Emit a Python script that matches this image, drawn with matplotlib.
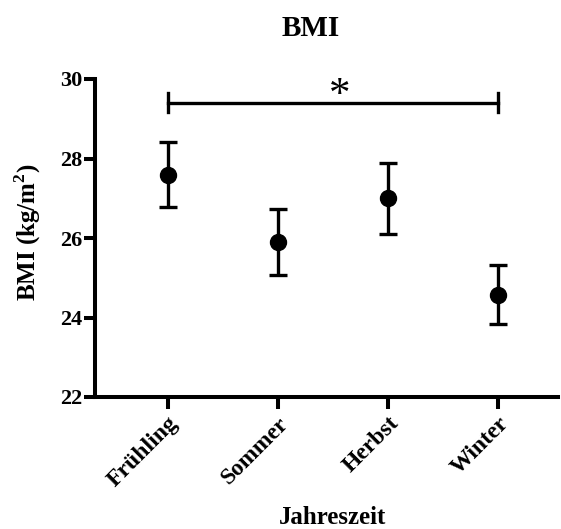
import matplotlib
matplotlib.use("Agg")
import matplotlib.pyplot as plt
import numpy as np

# Mean BMI per season with lower / upper error limits
seasons = ["Frühling", "Sommer", "Herbst", "Winter"]
bmi_mean = [27.58, 25.89, 27.0, 24.57]
err_low = [26.77, 25.06, 26.11, 23.84]
err_high = [28.42, 26.72, 27.88, 25.31]

# Significance bracket between Frühling and Winter
sig_pair = (0, 3)
sig_level = 29.4
sig_label = "*"

plt.rcParams['font.family'] = ['Liberation Serif', 'DejaVu Serif']
plt.rcParams['font.weight'] = 'bold'
plt.rcParams['mathtext.fontset'] = 'custom'
plt.rcParams['mathtext.bf'] = 'Liberation Serif:bold'
plt.rcParams['mathtext.rm'] = 'Liberation Serif:bold'

fig = plt.figure(figsize=(5.61, 5.29), dpi=100)
ax = fig.add_axes([95 / 561, 1 - 397 / 529, 463 / 561, 318 / 529])

x = np.arange(len(seasons))
mean = np.array(bmi_mean)
yerr = np.vstack([mean - np.array(err_low), np.array(err_high) - mean])

ax.errorbar(x, mean, yerr=yerr, fmt='o', color='black', ms=11.5,
            elinewidth=2.4, capsize=6.5, capthick=2.4)

# Bracket with end ticks and the star above
x0, x1 = sig_pair
ax.plot([x0, x1], [sig_level, sig_level], color='black', lw=2.4, clip_on=False)
for xe in sig_pair:
    ax.plot([xe, xe], [sig_level - 0.24, sig_level + 0.24], color='black',
            lw=2.4, clip_on=False)
ax.annotate(sig_label, xy=((x0 + x1) / 2, sig_level), xytext=(5, -2),
            textcoords='offset points', ha='center', va='baseline',
            fontsize=31, fontweight='normal')

ax.set_xlim(-0.66, 3.54)
ax.set_ylim(22, 30)
ax.set_yticks([22, 24, 26, 28, 30])
ax.set_xticks(x)
ax.set_xticklabels(seasons, rotation=45, ha='right', va='top',
                   rotation_mode='anchor', fontsize=17, fontweight='bold')
for lbl in ax.get_yticklabels():
    lbl.set_fontsize(16)
    lbl.set_fontweight('bold')

for side in ['top', 'right']:
    ax.spines[side].set_visible(False)
for side in ['left', 'bottom']:
    ax.spines[side].set_linewidth(2.9)
ax.tick_params(axis='y', length=8, width=2.9, pad=1)
ax.tick_params(axis='x', length=8.5, width=2.9, pad=3)

fig.text(311 / 561, 1 - 28 / 529, "BMI", ha='center', va='center',
         fontsize=21, fontweight='bold')
fig.text(333 / 561, 1 - 517 / 529, "Jahreszeit", ha='center', va='center',
         fontsize=18, fontweight='bold')
fig.text(28 / 561, 1 - 232 / 529, "BMI (kg/m$^\\mathbf{2}$)", ha='center',
         va='center', rotation=90, fontsize=18, fontweight='bold')

fig.savefig("out.png", dpi=100)
